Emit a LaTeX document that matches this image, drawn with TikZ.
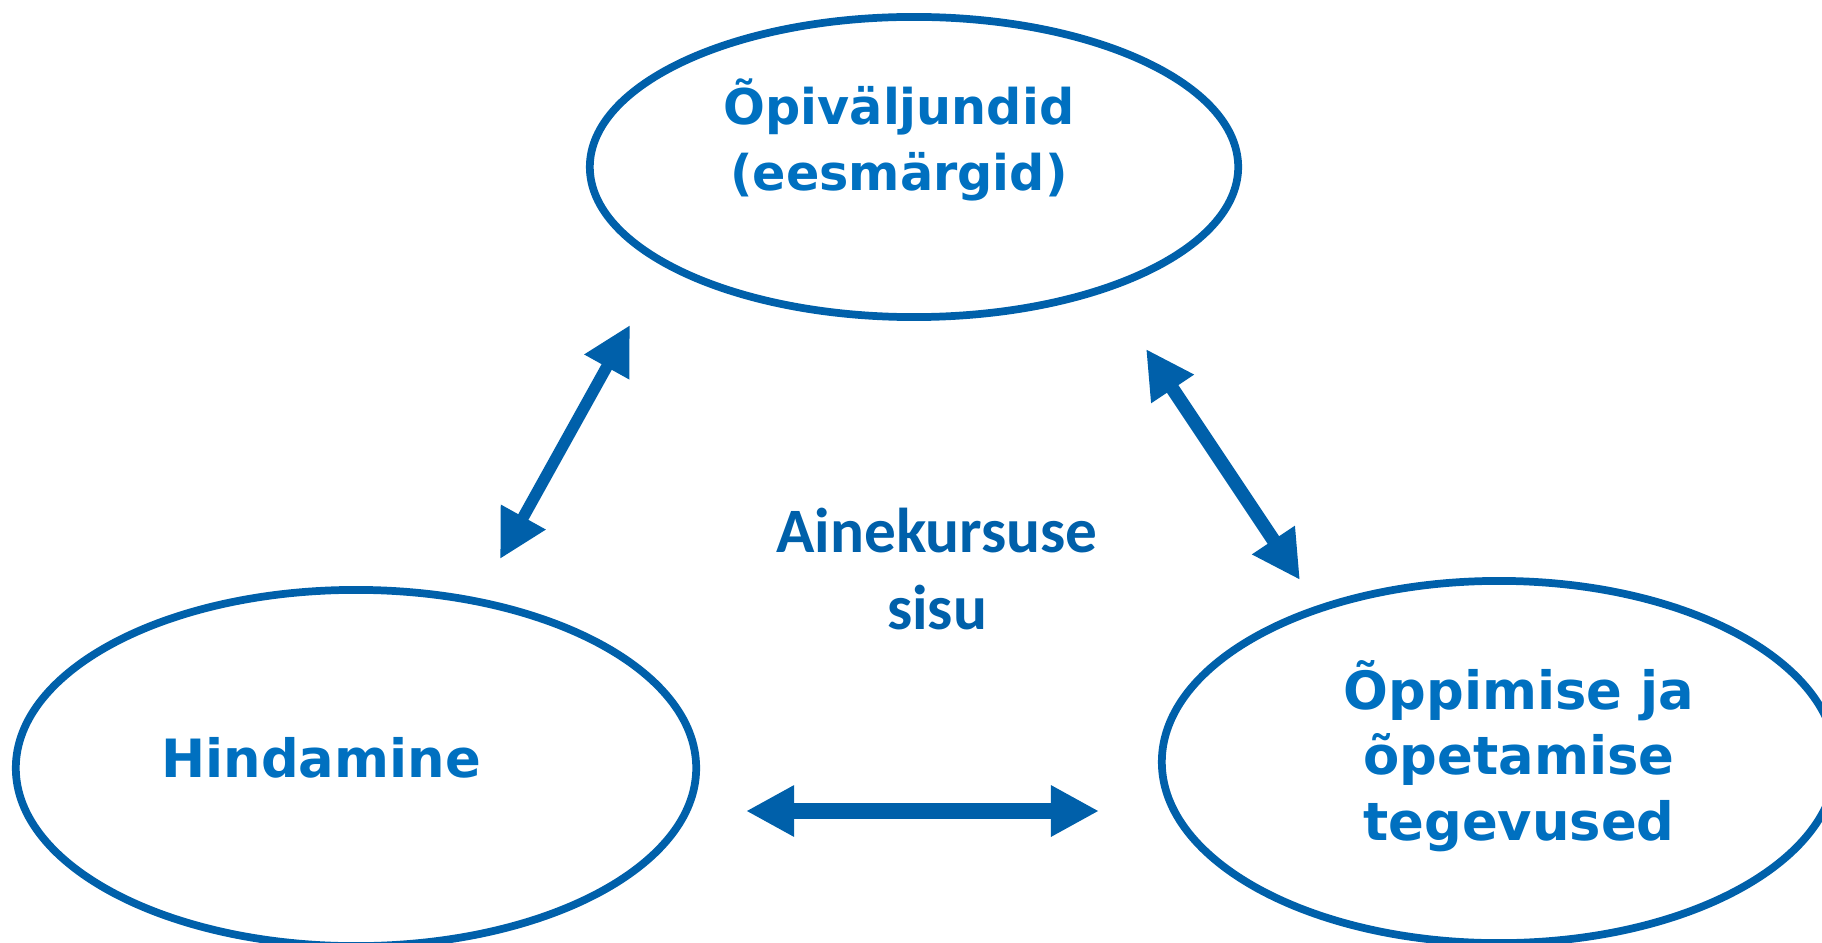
\documentclass[tikz,border=0pt]{standalone}
\usepackage{fontspec}
\newfontfamily\verdfont{DejaVu Sans}
\newfontfamily\califont{Carlito}
\usetikzlibrary{arrows.meta,shapes.geometric}
\definecolor{linkblue}{RGB}{0,96,170}
\definecolor{textblue}{RGB}{0,112,192}

\begin{document}
\begin{tikzpicture}[x=0.01cm,y=-0.01cm,
    oval/.style={ellipse,draw=linkblue,line width=2.2pt,inner sep=0pt},
    ovaltext/.style={text=textblue,align=center,
        font=\verdfont\bfseries\fontsize{15}{18.6}\selectfont},
    link/.style={draw=linkblue,
        {Triangle[length=4.8mm,width=4.8mm]}-{Triangle[length=4.8mm,width=4.8mm]}}]
    \useasboundingbox (0,0) rectangle (1822,943);
    \clip (0,0) rectangle (1822,943);

    % the three ovals
    \node[oval,minimum width=6.48cm,minimum height=3.00cm] (goals) at (914,167) {};
    \node[oval,minimum width=6.80cm,minimum height=3.56cm] (assess) at (356,768) {};
    \node[oval,minimum width=6.74cm,minimum height=3.62cm] (activities) at (1499,762) {};

    % their texts
    \node[ovaltext,font=\verdfont\bfseries\fontsize{14}{18.6}\selectfont] (goalstext)
        at (899,140) {Õpiväljundid\\(eesmärgid)};
    \node[ovaltext,anchor=base] (assesstext) at (321,777) {Hindamine};
    \node[ovaltext] (activitiestext) at (1519,756) {Õppimise ja\\õpetamise\\tegevused};

    % middle text
    \node[text=linkblue,align=center,
        font=\califont\bfseries\fontsize{18}{21.8}\selectfont] (content) at (937,569)
        {Ainekursuse\\sisu};

    % arrow ends
    \coordinate (assesstop) at (500,559);
    \coordinate (goalsleft) at (630,325);
    \coordinate (goalsright) at (1146,349);
    \coordinate (activitiestop) at (1300,580);
    \coordinate (assessright) at (746,811);
    \coordinate (activitiesleft) at (1099,811);

    % double arrows
    \draw[link,line width=3.3pt] (assesstop) -- (goalsleft);
    \draw[link,line width=3.9pt] (goalsright) -- (activitiestop);
    \draw[link,line width=4.8pt] (assessright) -- (activitiesleft);
\end{tikzpicture}
\end{document}
